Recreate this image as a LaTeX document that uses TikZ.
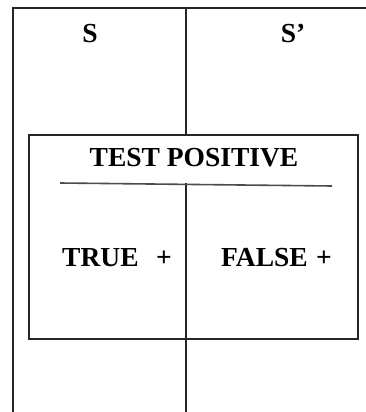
\documentclass[tikz,border=0pt]{standalone}
\usepackage{fontspec}
\setmainfont{Liberation Serif}
\begin{document}
\begin{tikzpicture}[x=1pt,y=-1pt,
  frame/.style={line width=1.3pt,draw=black!85},
  lbl/.style={inner sep=0pt,anchor=base,font=\fontsize{27.5}{31}\selectfont\bfseries},
  lblw/.style={inner sep=0pt,anchor=base west,font=\fontsize{27.5}{31}\selectfont\bfseries}]
\useasboundingbox (0,0) rectangle (366,412);
\coordinate (tl) at (13,8);
\coordinate (tr) at (366,8);
\coordinate (bl) at (13,412);
\coordinate (dt) at (186,8);
\coordinate (db) at (186,412);
\draw[frame] (tr) -- (tl) -- (bl);
\draw[frame] (dt) -- (db);
\draw[frame,fill=white] (29,135) rectangle (358,339);
\draw[frame] (186,183) -- (186,339);
\coordinate (ul) at (60,183);
\coordinate (ur) at (332,186);
\draw[line width=1.6pt,draw=black!70] (ul) -- (ur);
\node[lbl] (s) at (90,43) {S};
\node[lbl] (sp) at (293,43) {S’};
\node[lbl] (tp) at (194,166) {TEST POSITIVE};
\node[lblw] (tru) at (62,266) {TRUE};
\node[lblw] (trp) at (156,266) {+};
\node[lblw] (fal) at (221,266) {FALSE};
\node[lblw] (fap) at (316,266) {+};
\end{tikzpicture}
\end{document}
